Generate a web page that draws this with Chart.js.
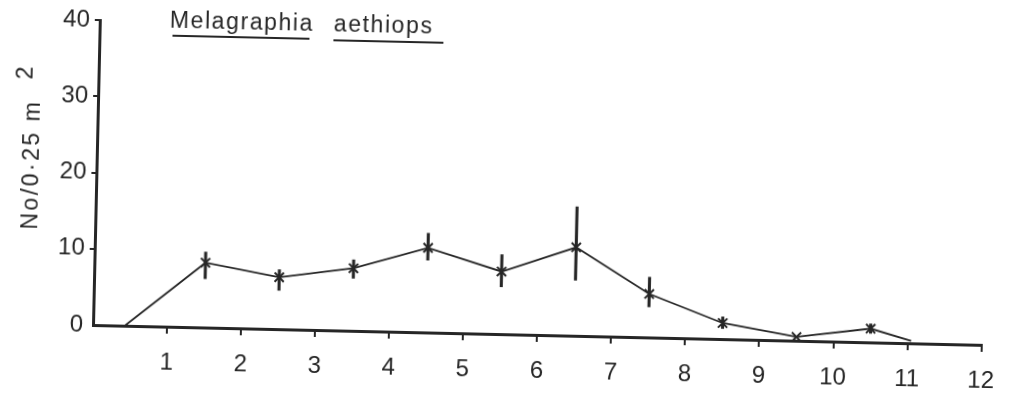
<!DOCTYPE html>
<html>
<head>
<meta charset="utf-8">
<script src="https://cdn.jsdelivr.net/npm/chart.js@4.4.1/dist/chart.umd.min.js"></script>
<style>
  html, body { margin: 0; padding: 0; background: #fff; overflow: hidden; }
  /* the scanned figure is turned a little clockwise */
  #myChart { display: block; transform: rotate(1.28deg); transform-origin: 93px 325px; }
</style>
</head>
<body>
<canvas id="myChart" width="1010" height="394"></canvas>
<script>
// values (x = sample position, y = No / 0.25 m2)
var xValues = [0.43, 1.5, 2.5, 3.5, 4.5, 5.5, 6.5, 7.5, 8.5, 9.5, 10.5, 11.05];
var yValues = [0, 8.5, 6.8, 8.2, 11.1, 8.2, 11.6, 5.7, 2.1, 0.5, 1.8, 0.3];
var errLow  = [null, 6.4, 5.1, 6.9, 9.5, 6.2, 7.3, 4.0, 1.4, null, 1.2, null];
var errHigh = [null, 9.9, 7.8, 9.3, 13.0, 10.4, 16.9, 7.9, 2.9, null, 2.4, null];
var xTicks = [1, 2, 3, 4, 5, 6, 7, 8, 9, 10, 11, 12];
var yTicks = [0, 10, 20, 30, 40];

var ink = "#262626";
var font = "'Liberation Sans', Arial, Helvetica, sans-serif";

var linePoints = [];
var errBars = [];
var radii = [];
xValues.forEach(function(x, i) {
  linePoints.push({ x: x, y: yValues[i] });
  radii.push(errLow[i] === null && i !== 9 ? 0 : 6.5);
  if (errLow[i] !== null) {
    errBars.push({ x: x, y: [errLow[i], errHigh[i]] });
  }
});

// title, underlines and the y axis label
var labels = {
  id: "labels",
  afterDraw: function(chart) {
    var ctx = chart.ctx;
    ctx.save();
    ctx.fillStyle = ink;
    ctx.strokeStyle = ink;
    ctx.font = "23px " + font;
    ctx.letterSpacing = "1.6px";
    ctx.textBaseline = "alphabetic";
    ctx.textAlign = "left";
    ctx.fillText("Melagraphia", 163, 26);
    ctx.fillText("aethiops", 327, 26);
    ctx.lineWidth = 1.8;
    ctx.beginPath();
    ctx.moveTo(166, 34); ctx.lineTo(303, 34);
    ctx.moveTo(327, 35); ctx.lineTo(437, 35);
    ctx.stroke();

    ctx.font = "23px " + font;
    ctx.letterSpacing = "2.5px";
    ctx.translate(29, 231);
    ctx.rotate(-Math.PI / 2);
    ctx.textBaseline = "middle";
    ctx.fillText("No/0\u00B725 m", 0, 0);
    ctx.fillText("2", 150, -8);
    ctx.restore();
  }
};

new Chart("myChart", {
  type: "line",
  data: {
    datasets: [
      {
        type: "line",
        data: linePoints,
        borderColor: ink,
        borderWidth: 1.8,
        pointStyle: "crossRot",
        pointRadius: radii,
        pointBorderColor: ink,
        pointBorderWidth: 2,
        tension: 0,
        order: 1
      },
      {
        type: "bar",
        data: errBars,
        backgroundColor: ink,
        borderWidth: 0,
        barThickness: 2.4,
        order: 2
      }
    ]
  },
  options: {
    responsive: false,
    animation: false,
    devicePixelRatio: 1,
    layout: { padding: { top: 20, right: 22, bottom: 0, left: 0 } },
    plugins: {
      legend: { display: false },
      title: { display: false },
      tooltip: { enabled: false }
    },
    scales: {
      x: {
        type: "linear",
        min: 0,
        max: 12,
        offset: false,
        afterFit: function(scale) { scale.height = 69; },
        afterBuildTicks: function(scale) {
          scale.ticks = [0].concat(xTicks).map(function(v) { return { value: v }; });
        },
        ticks: {
          color: ink,
          font: { family: font, size: 24 },
          padding: 15,
          maxRotation: 0,
          autoSkip: false,
          callback: function(v) { return v === 0 ? "" : v; }
        },
        border: { display: true, color: ink, width: 3 },
        grid: {
          display: true,
          offset: false,
          drawOnChartArea: false,
          drawTicks: true,
          tickLength: 7,
          lineWidth: 2,
          color: function(c) { return c.tick && c.tick.value === 0 ? "rgba(0,0,0,0)" : ink; }
        }
      },
      y: {
        min: 0,
        max: 40,
        afterFit: function(scale) { scale.width = 93; },
        afterBuildTicks: function(scale) {
          scale.ticks = yTicks.map(function(v) { return { value: v }; });
        },
        ticks: {
          color: ink,
          font: { family: font, size: 24 },
          padding: 5
        },
        border: { display: true, color: ink, width: 3 },
        grid: {
          display: true,
          drawOnChartArea: false,
          drawTicks: true,
          tickLength: 5,
          lineWidth: 2,
          color: function(c) { return c.tick && c.tick.value === 0 ? "rgba(0,0,0,0)" : ink; }
        }
      }
    }
  },
  plugins: [labels]
});
</script>
</body>
</html>
